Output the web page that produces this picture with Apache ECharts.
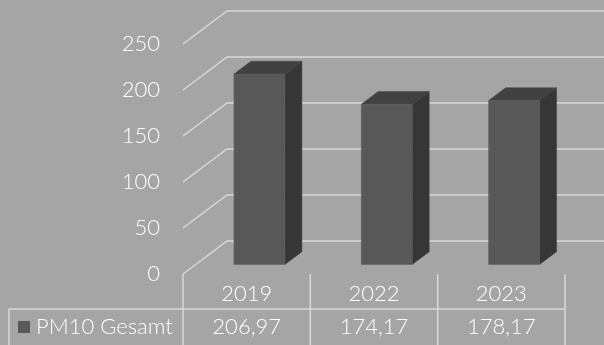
<!DOCTYPE html>
<html>
<head>
<meta charset="utf-8">
<script src="https://cdn.jsdelivr.net/npm/echarts@6/dist/echarts.min.js"></script>
<style>
html,body{margin:0;padding:0;background:#a5a5a5;}
#c{width:604px;height:345px;}
</style>
</head>
<body>
<div id="c"></div>
<script>
const categories = ['2019', '2022', '2023'];
const values = [206.97, 174.17, 178.17];
const seriesName = 'PM10 Gesamt';
const yTicks = [0, 50, 100, 150, 200, 250];

const FONT = '"Lato Light", Lato, "Open Sans", sans-serif';
const FS = 22;
const TXT = '#ffffff';
const LINE = '#d9d9d9';
const DX = 44, DY = 33;      // wall depth offset
const F0 = 0.29, FD = 0.386; // bar front depth fraction, bar depth fraction

function fmt(v) { return v.toFixed(2).replace('.', ','); }

const chart = echarts.init(document.getElementById('c'));
chart.setOption({
  backgroundColor: '#a5a5a5',
  animation: false,
  grid: { left: 183, right: 39, top: 44, bottom: 71 },
  legend: {
    data: [seriesName], left: 18, top: 316, padding: 0,
    icon: 'rect', itemWidth: 12, itemHeight: 12, itemGap: 10,
    textStyle: { color: TXT, fontSize: FS, fontFamily: FONT, fontWeight: 300, lineHeight: 22, padding: [0, 0, 0, 1] },
    selectedMode: false
  },
  xAxis: {
    type: 'category', data: categories,
    axisLine: { show: false }, axisTick: { show: false },
    axisLabel: { color: TXT, fontSize: FS, fontFamily: FONT, fontWeight: 300, margin: 9 }
  },
  yAxis: {
    type: 'value', min: 0, max: 250, interval: 50,
    axisLine: { show: false }, axisTick: { show: false }, splitLine: { show: false },
    axisLabel: { color: TXT, fontSize: FS, fontFamily: FONT, fontWeight: 300, margin: 23 }
  },
  series: [
    {
      name: 'wall', type: 'custom', silent: true, clip: false, z: 1,
      data: yTicks.map(v => [0, v]),
      renderItem: function (params, api) {
        const cs = params.coordSys;
        const y = api.coord([0, api.value(1)])[1];
        return {
          type: 'polyline',
          shape: { points: [[cs.x, y], [cs.x + DX, y - DY], [cs.x + cs.width + DX, y - DY]] },
          style: { stroke: LINE, lineWidth: 1.5, fill: null }
        };
      }
    },
    {
      name: seriesName, type: 'custom', clip: false, z: 5,
      itemStyle: { color: '#595959' },
      data: values.map((v, i) => [i, v]),
      renderItem: function (params, api) {
        const i = api.value(0), v = api.value(1);
        const band = api.size([1, 0])[0];
        const base = api.coord([i, 0]);
        const top = api.coord([i, v]);
        const w = band * 0.4;
        const xL = base[0] - w / 2 + DX * F0;
        const xR = xL + w;
        const yB = base[1] - DY * F0;
        const yT = top[1] - DY * F0;
        const ddx = DX * FD, ddy = DY * FD;
        return {
          type: 'group',
          children: [
            { type: 'polygon', shape: { points: [[xR, yT], [xR + ddx, yT - ddy], [xR + ddx, yB - ddy], [xR, yB]] },
              style: { fill: '#363636', stroke: '#3a3a3a', lineWidth: 0.5 } },
            { type: 'polygon', shape: { points: [[xL, yT], [xL + ddx, yT - ddy], [xR + ddx, yT - ddy], [xR, yT]] },
              style: { fill: '#414141', stroke: '#454545', lineWidth: 0.5 } },
            { type: 'rect', shape: { x: xL, y: yT, width: w, height: yB - yT },
              style: { fill: '#585858', stroke: '#5c5c5c', lineWidth: 0.5 } }
          ]
        };
      }
    },
    {
      name: 'table', type: 'custom', silent: true, clip: false, z: 2,
      data: values.map((v, i) => [i, v]),
      renderItem: function (params, api) {
        const cs = params.coordSys;
        const i = api.value(0), v = api.value(1);
        const band = api.size([1, 0])[0];
        const base = api.coord([i, 0]);
        const xl = base[0] - band / 2, xr = base[0] + band / 2;
        const floor = cs.y + cs.height;
        const rowTop = floor + 35;
        const ch = [
          { type: 'line', shape: { x1: xl, y1: base[1], x2: xl, y2: 360 }, style: { stroke: LINE, lineWidth: 1.5 } },
          { type: 'text', style: { x: base[0], y: floor + 53, text: fmt(v), fill: TXT, fontSize: FS, fontFamily: FONT, fontWeight: 300, align: 'center', verticalAlign: 'middle' } }
        ];
        if (i === values.length - 1) {
          ch.push({ type: 'line', shape: { x1: xr, y1: base[1], x2: xr, y2: 360 }, style: { stroke: LINE, lineWidth: 1.5 } });
        }
        if (i === 0) {
          ch.push({ type: 'line', shape: { x1: 9, y1: rowTop, x2: cs.x + cs.width, y2: rowTop }, style: { stroke: LINE, lineWidth: 1.5 } });
          ch.push({ type: 'line', shape: { x1: 9, y1: rowTop, x2: 9, y2: 360 }, style: { stroke: LINE, lineWidth: 1.5 } });
        }
        return { type: 'group', children: ch };
      }
    }
  ]
});
</script>
</body>
</html>
